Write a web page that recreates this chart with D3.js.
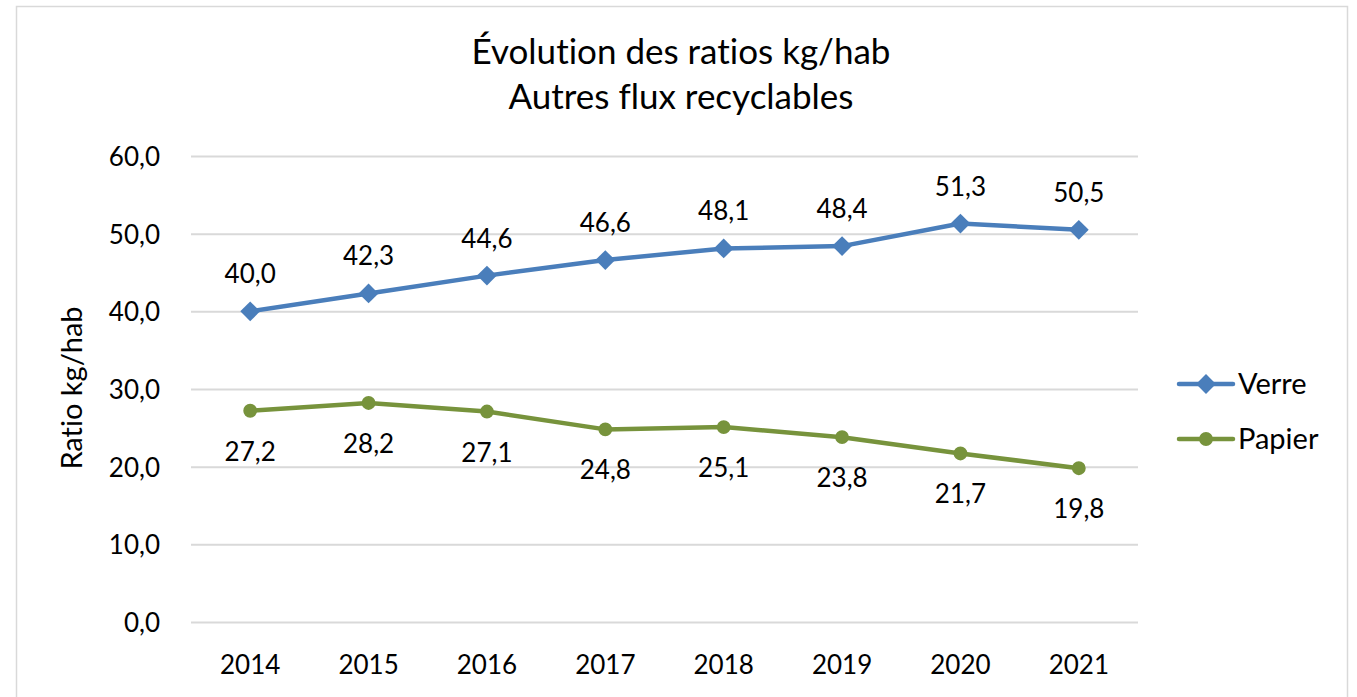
<!DOCTYPE html>
<html>
<head>
<meta charset="utf-8">
<script src="https://cdn.jsdelivr.net/npm/d3@7/dist/d3.min.js"></script>
<style>
  html, body { margin: 0; padding: 0; background: #fff; }
  svg text { font-family: Lato, "Open Sans", "Liberation Sans", sans-serif; fill: #000;
             font-variant-ligatures: none; font-feature-settings: "liga" 0, "clig" 0; }
</style>
</head>
<body>
<script>
// Data
const years = ["2014", "2015", "2016", "2017", "2018", "2019", "2020", "2021"];
const verre = [40.0, 42.3, 44.6, 46.6, 48.1, 48.4, 51.3, 50.5];
const papier = [27.2, 28.2, 27.1, 24.8, 25.1, 23.8, 21.7, 19.8];
const yTicks = [0, 10, 20, 30, 40, 50, 60];
const titleLines = ["Évolution des ratios kg/hab", "Autres flux recyclables"];
const yTitle = "Ratio kg/hab";

const W = 1357, H = 697;
const plot = { left: 191, right: 1138, top: 156, bottom: 622 };
const fmt = v => v.toFixed(1).replace(".", ",");
const numSize = 26;

const svg = d3.select("body").append("svg").attr("width", W).attr("height", H);

// Chart frame
svg.append("rect").attr("x", 16.5).attr("y", 6.5).attr("width", 1331).attr("height", 700)
  .attr("fill", "#fff").attr("stroke", "#d9d9d9").attr("stroke-width", 1.5);

const x = d3.scaleBand().domain(years).range([plot.left, plot.right]);
const y = d3.scaleLinear().domain([0, 60]).range([plot.bottom, plot.top]);
const cx = d => x(d) + x.bandwidth() / 2;

// Gridlines and y tick labels
const yAxis = d3.axisLeft(y).tickValues(yTicks).tickFormat(fmt)
  .tickSize(-(plot.right - plot.left)).tickPadding(31);
const gy = svg.append("g").attr("transform", `translate(${plot.left},0)`).call(yAxis);
gy.select(".domain").remove();
gy.selectAll(".tick line").attr("stroke", "#d9d9d9").attr("stroke-width", 2);
gy.selectAll(".tick text").attr("font-size", numSize).attr("dy", "0.36em");

// x axis labels
const xAxis = d3.axisBottom(x).tickSize(0);
const gx = svg.append("g").attr("transform", `translate(0,${plot.bottom})`).call(xAxis);
gx.select(".domain").remove();
gx.selectAll(".tick text").attr("font-size", numSize).attr("y", 52).attr("dy", 0);

// Title
svg.append("text").attr("text-anchor", "middle").attr("font-size", 35)
  .selectAll("tspan").data(titleLines).join("tspan")
  .attr("x", 681).attr("y", (d, i) => 64 + i * 45).text(d => d);

// Y axis title
svg.append("text").attr("transform", "translate(82,388) rotate(-90)")
  .attr("text-anchor", "middle").attr("font-size", 29).text(yTitle);

const diamond = d3.symbol().type(d3.symbolSquare).size(196);
const series = [
  { name: "Verre", values: verre, color: "#4a7ebb", marker: diamond, rot: 45, labelDy: -28 },
  { name: "Papier", values: papier, color: "#77933c", marker: d3.symbol().type(d3.symbolCircle).size(150), rot: 0, labelDy: 50 }
];

const line = d3.line().x((d, i) => cx(years[i])).y(d => y(d));

series.forEach(s => {
  svg.append("path").datum(s.values).attr("d", line)
    .attr("fill", "none").attr("stroke", s.color).attr("stroke-width", 4.5)
    .attr("stroke-linejoin", "round").attr("stroke-linecap", "round");
  svg.selectAll(null).data(s.values).join("path")
    .attr("d", s.marker)
    .attr("transform", (d, i) => `translate(${cx(years[i])},${y(d)}) rotate(${s.rot})`)
    .attr("fill", s.color);
  svg.selectAll(null).data(s.values).join("text")
    .attr("x", (d, i) => cx(years[i])).attr("y", d => y(d) + s.labelDy)
    .attr("text-anchor", "middle").attr("font-size", numSize).text(d => fmt(d));
});

// Legend
const legend = svg.append("g");
series.forEach((s, i) => {
  const ly = 384 + i * 55;
  legend.append("line").attr("x1", 1179).attr("x2", 1233).attr("y1", ly).attr("y2", ly)
    .attr("stroke", s.color).attr("stroke-width", 4.5).attr("stroke-linecap", "round");
  legend.append("path").attr("d", s.marker())
    .attr("transform", `translate(1206,${ly}) rotate(${s.rot})`).attr("fill", s.color);
  legend.append("text").attr("x", 1238).attr("y", ly).attr("dy", "0.36em")
    .attr("font-size", 29).text(s.name);
});
</script>
</body>
</html>
